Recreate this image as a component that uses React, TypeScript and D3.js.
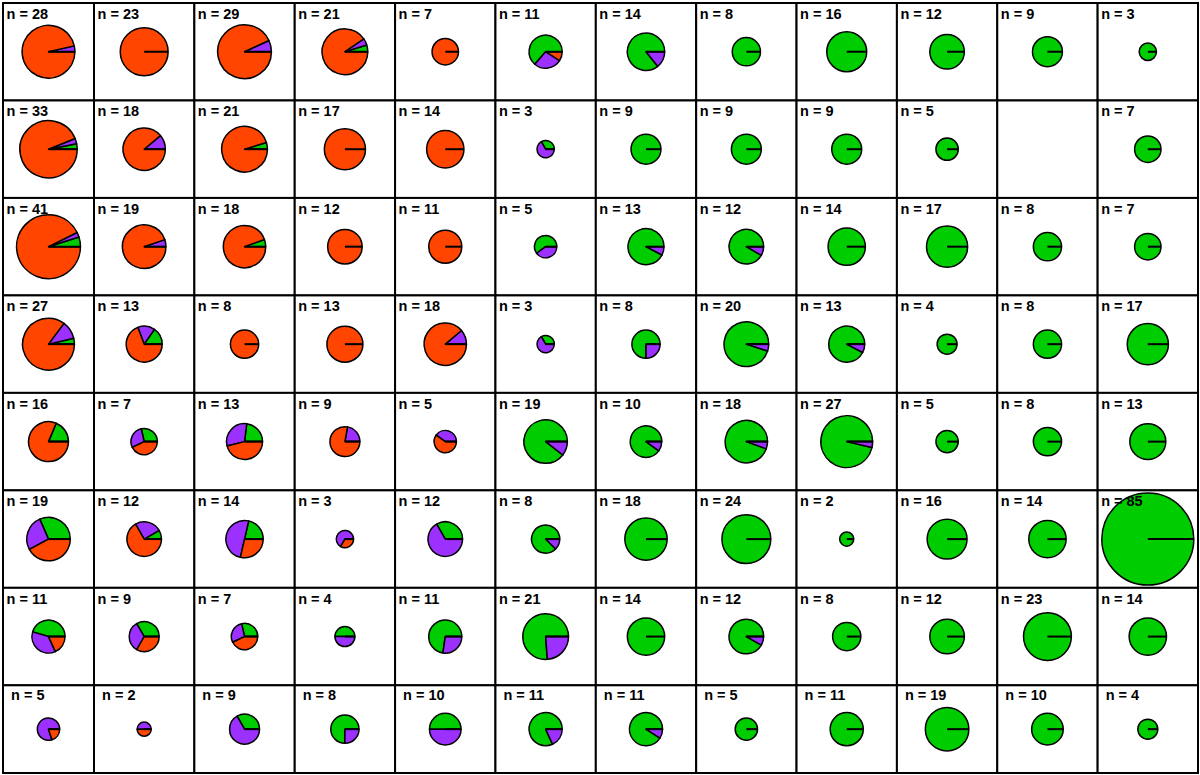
import React from "react";
import * as d3 from "d3";

// Counts per cell, row-major (8 rows x 12 columns)
const greenCounts: number[][] = [
  [0, 0, 0, 1, 0, 7, 12, 8, 16, 12, 9, 3],
  [1, 0, 1, 0, 0, 1, 9, 9, 9, 5, 0, 7],
  [2, 0, 1, 0, 0, 3, 12, 11, 14, 17, 8, 7],
  [1, 2, 0, 0, 0, 1, 6, 19, 12, 4, 8, 17],
  [3, 2, 3, 0, 0, 17, 9, 17, 26, 5, 8, 13],
  [6, 1, 3, 0, 4, 7, 18, 24, 2, 16, 14, 85],
  [5, 3, 2, 2, 8, 16, 14, 11, 8, 12, 23, 14],
  [0, 0, 3, 6, 5, 9, 10, 5, 11, 19, 10, 4],
];
const purpleCounts: number[][] = [
  [1, 0, 2, 1, 0, 3, 2, 0, 0, 0, 0, 0],
  [1, 2, 0, 0, 0, 2, 0, 0, 0, 0, 0, 0],
  [1, 1, 0, 0, 0, 2, 1, 1, 0, 0, 0, 0],
  [3, 2, 0, 0, 2, 2, 2, 1, 1, 0, 0, 0],
  [0, 2, 4, 2, 2, 2, 1, 1, 1, 0, 0, 0],
  [5, 3, 7, 2, 8, 1, 0, 0, 0, 0, 0, 0],
  [4, 3, 2, 2, 3, 5, 0, 1, 0, 0, 0, 0],
  [4, 1, 6, 2, 5, 2, 1, 0, 0, 0, 0, 0],
];
const orangeCounts: number[][] = [
  [27, 23, 27, 19, 7, 1, 0, 0, 0, 0, 0, 0],
  [31, 16, 20, 17, 14, 0, 0, 0, 0, 0, 0, 0],
  [38, 18, 17, 12, 11, 0, 0, 0, 0, 0, 0, 0],
  [23, 9, 8, 13, 16, 0, 0, 0, 0, 0, 0, 0],
  [13, 3, 6, 7, 3, 0, 0, 0, 0, 0, 0, 0],
  [8, 8, 4, 1, 0, 0, 0, 0, 0, 0, 0, 0],
  [2, 3, 3, 0, 0, 0, 0, 0, 0, 0, 0, 0],
  [1, 1, 0, 0, 0, 0, 0, 0, 0, 0, 0, 0],
];
const categoryNames = ["green", "purple", "orange"];
const categoryColors = ["#00CD00", "#9B30FF", "#FF4500"];

const NROWS = 8;
const NCOLS = 12;

export default function App() {
  // column edges: first column narrower
  const colScale = d3.scaleLinear().domain([1, NCOLS]).range([94, 1198]);
  const colEdges = [3, ...d3.range(1, NCOLS + 1).map((i) => colScale(i))];
  const rowScale = d3.scaleLinear().domain([0, NROWS - 1]).range([3, 685.3]);
  const rowEdges = [...d3.range(0, NROWS).map((i) => rowScale(i)), 773];

  const maxN = 85;
  const rScale = d3.scaleSqrt().domain([0, maxN]).range([0, 46]);
  const color = d3.scaleOrdinal<string, string>().domain(categoryNames).range(categoryColors);

  const pie = d3
    .pie<{ key: string; value: number }>()
    .sort(null)
    .value((d) => d.value)
    .startAngle(Math.PI / 2)
    .endAngle(Math.PI / 2 - 2 * Math.PI);

  const frames: React.ReactNode[] = [];
  const pies: React.ReactNode[] = [];
  const labels: React.ReactNode[] = [];
  for (let r = 0; r < NROWS; r++) {
    for (let c = 0; c < NCOLS; c++) {
      const x0 = colEdges[c];
      const x1 = colEdges[c + 1];
      const y0 = rowEdges[r];
      const y1 = rowEdges[r + 1];
      const data = [
        { key: "green", value: greenCounts[r][c] },
        { key: "purple", value: purpleCounts[r][c] },
        { key: "orange", value: orangeCounts[r][c] },
      ];
      const n = d3.sum(data, (d) => d.value);
      const cx = (x0 + x1) / 2;
      const cy = (y0 + y1) / 2;
      const radius = rScale(n);
      const arc = d3.arc<d3.PieArcDatum<{ key: string; value: number }>>().innerRadius(0).outerRadius(radius);
      const arcs = pie(data).filter((a) => a.value > 0);
      const lastRow = r === NROWS - 1;
      frames.push(
        <rect key={`f-${r}-${c}`} x={x0} y={y0} width={x1 - x0} height={y1 - y0} fill="white" stroke="black" strokeWidth={2} />
      );
      if (n > 0) {
        pies.push(
          <g key={`p-${r}-${c}`} transform={`translate(${cx},${cy})`}>
            {arcs.map((a, i) => (
              <path
                key={i}
                d={arc(a) || ""}
                fill={color(a.data.key)}
                stroke="black"
                strokeWidth={1.5}
                strokeLinejoin="round"
              />
            ))}
            <line x1={0} y1={0} x2={radius} y2={0} stroke="black" strokeWidth={2} />
          </g>
        );
        labels.push(
          <text
            key={`t-${r}-${c}`}
            x={x0 + (lastRow ? 8 : 3.5)}
            y={y0 + (lastRow ? 14.5 : 16)}
            fontFamily="'Liberation Sans', Arial, Helvetica, sans-serif"
            fontSize={14.5}
            fontWeight="bold"
            fill="black"
          >
            {`n = ${n}`}
          </text>
        );
      }
    }
  }

  return (
    <svg
      width={1200}
      height={775}
      style={{ position: "absolute", left: 0, top: 0, background: "white" }}
    >
      <rect x={0} y={0} width={1200} height={775} fill="white" />
      {frames}
      {pies}
      {labels}
    </svg>
  );
}
